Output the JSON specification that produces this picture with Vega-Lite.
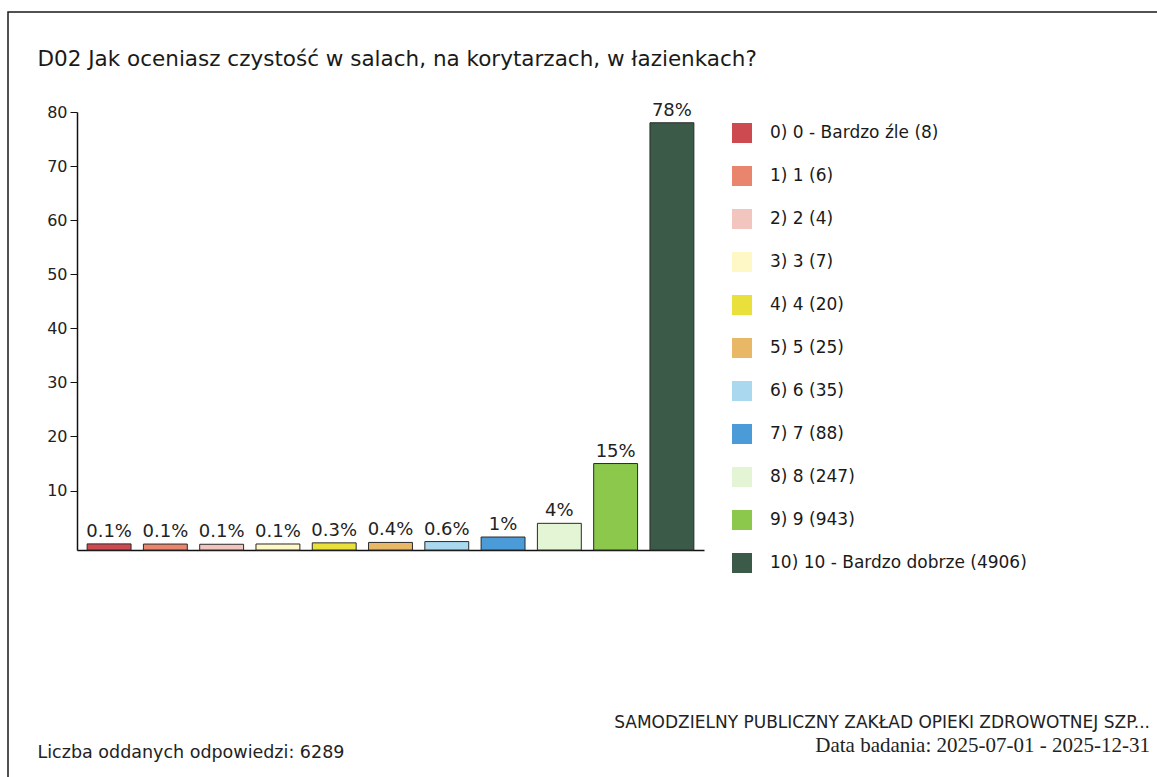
{
  "$schema": "https://vega.github.io/schema/vega-lite/v6.json",
  "width": 1160,
  "height": 775,
  "autosize": {"type": "none"},
  "padding": {"left": 8, "top": 12, "right": 0, "bottom": 0},
  "background": "white",
  "config": {
    "view": {"stroke": "#1a1a1a", "strokeWidth": 1.5},
    "font": "DejaVu Sans"
  },
  "title": {
    "text": "SAMODZIELNY PUBLICZNY ZAKŁAD OPIEKI ZDROWOTNEJ SZP...",
    "subtitle": "Data badania: 2025-07-01 - 2025-12-31",
    "orient": "bottom",
    "anchor": "end",
    "frame": "group",
    "offset": -72,
    "dx": -18,
    "font": "DejaVu Sans",
    "fontSize": 17,
    "fontWeight": "normal",
    "color": "#222222",
    "subtitleFont": "Liberation Serif",
    "subtitleFontSize": 21,
    "subtitleColor": "#222222",
    "subtitlePadding": 3
  },
  "data": {
    "values": [
      {"label": "0) 0 - Bardzo źle (8)", "pct": 0.13, "text": "0.1%"},
      {"label": "1) 1 (6)", "pct": 0.10, "text": "0.1%"},
      {"label": "2) 2 (4)", "pct": 0.06, "text": "0.1%"},
      {"label": "3) 3 (7)", "pct": 0.11, "text": "0.1%"},
      {"label": "4) 4 (20)", "pct": 0.32, "text": "0.3%"},
      {"label": "5) 5 (25)", "pct": 0.40, "text": "0.4%"},
      {"label": "6) 6 (35)", "pct": 0.56, "text": "0.6%"},
      {"label": "7) 7 (88)", "pct": 1.40, "text": "1%"},
      {"label": "8) 8 (247)", "pct": 3.93, "text": "4%"},
      {"label": "9) 9 (943)", "pct": 14.99, "text": "15%"},
      {"label": "10) 10 - Bardzo dobrze (4906)", "pct": 78.01, "text": "78%"}
    ]
  },
  "encoding": {
    "x": {
      "field": "label",
      "type": "nominal",
      "sort": null,
      "scale": {"range": [69, 696], "paddingInner": 0.22, "paddingOuter": 0.18},
      "axis": {
        "orient": "bottom",
        "offset": -237,
        "labels": false,
        "ticks": false,
        "domainColor": "#111111",
        "domainWidth": 1.5,
        "title": "Liczba oddanych odpowiedzi: 6289",
        "titleAnchor": "start",
        "titleAlign": "left",
        "titleBaseline": "alphabetic",
        "titleX": 29,
        "titleY": 207,
        "titleFont": "DejaVu Sans",
        "titleFontSize": 17.5,
        "titleFontWeight": "normal",
        "titleColor": "#222222"
      }
    }
  },
  "layer": [
    {
      "mark": {"type": "bar", "stroke": "#2a2a2a", "strokeWidth": 1},
      "encoding": {
        "y": {
          "field": "pct",
          "type": "quantitative",
          "scale": {"domain": [-1, 80], "range": [538, 100], "nice": false, "zero": false},
          "axis": {
            "orient": "left",
            "offset": -69,
            "values": [10, 20, 30, 40, 50, 60, 70, 80],
            "grid": false,
            "tickSize": 7,
            "tickColor": "#111111",
            "domainColor": "#111111",
            "domainWidth": 1.5,
            "labelFontSize": 16,
            "labelColor": "#222222",
            "labelPadding": 3,
            "title": "D02 Jak oceniasz czystość w salach, na korytarzach, w łazienkach?",
            "titleAngle": 0,
            "titleAlign": "left",
            "titleBaseline": "alphabetic",
            "titleX": -40,
            "titleY": 53,
            "titleFont": "DejaVu Sans",
            "titleFontSize": 21.5,
            "titleFontWeight": "normal",
            "titleColor": "#1a1a1a"
          }
        },
        "y2": {"datum": -1},
        "color": {
          "field": "label",
          "type": "nominal",
          "scale": {
            "domain": ["0) 0 - Bardzo źle (8)", "1) 1 (6)", "2) 2 (4)", "3) 3 (7)", "4) 4 (20)", "5) 5 (25)", "6) 6 (35)", "7) 7 (88)", "8) 8 (247)", "9) 9 (943)", "10) 10 - Bardzo dobrze (4906)"],
            "range": ["#cc4a50", "#e8856c", "#f2c6bf", "#fdf8c6", "#e9e03c", "#e8b866", "#a9d8ef", "#4b9bd9", "#e4f5d5", "#8cc84c", "#3b5a47"]
          },
          "legend": {
            "orient": "none",
            "legendX": 724,
            "legendY": 111,
            "title": null,
            "symbolType": "square",
            "symbolSize": 400,
            "symbolStrokeWidth": 0,
            "labelFontSize": 17,
            "labelFont": "DejaVu Sans",
            "labelColor": "#1a1a1a",
            "labelOffset": 18,
            "rowPadding": 23,
            "labelLimit": 400
          }
        }
      }
    },
    {
      "mark": {"type": "text", "baseline": "alphabetic", "dy": -7, "fontSize": 18, "color": "#222222"},
      "encoding": {
        "y": {"field": "pct", "type": "quantitative"},
        "text": {"field": "text"}
      }
    }
  ]
}
